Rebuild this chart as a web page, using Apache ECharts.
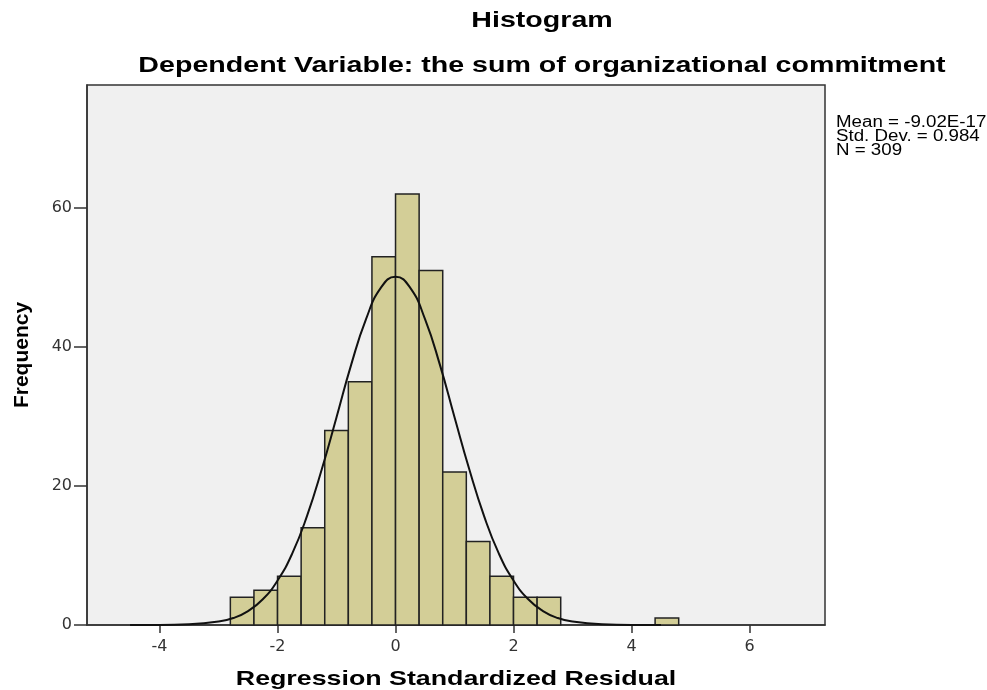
<!DOCTYPE html>
<html>
<head>
<meta charset="utf-8">
<script src="https://cdn.jsdelivr.net/npm/echarts@6/dist/echarts.min.js"></script>
<style>
  html, body { margin: 0; padding: 0; background: #fff; }
  #main { width: 987px; height: 690px; }
</style>
</head>
<body>
<div id="main"></div>
<script>
// histogram bins (left edge) and counts
var binStart = [-2.8, -2.4, -2.0, -1.6, -1.2, -0.8, -0.4, 0.0, 0.4, 0.8, 1.2, 1.6, 2.0, 2.4, 4.4];
var counts = [4, 5, 7, 14, 28, 35, 53, 62, 51, 22, 12, 7, 4, 4, 1];
var binWidth = 0.4;

// normal curve
var curveX = [-4.5, -4.0, -3.5, -3.0, -2.75, -2.5, -2.25, -2.0, -1.75, -1.5, -1.25, -1.0, -0.75, -0.5, -0.25, 0,
              0.25, 0.5, 0.75, 1.0, 1.25, 1.5, 1.75, 2.0, 2.25, 2.5, 2.75, 3.0, 3.5, 4.0, 4.5];
var curveY = [0.0, 0.0, 0.1, 0.5, 1.0, 2.0, 3.7, 6.4, 10.3, 15.7, 22.4, 29.9, 37.5, 44.0, 48.5, 50.1,
              48.5, 44.0, 37.5, 29.9, 22.4, 15.7, 10.3, 6.4, 3.7, 2.0, 1.0, 0.5, 0.1, 0.0, 0.0];

var xTicks = [-4, -2, 0, 2, 4, 6];
var yTicks = [0, 20, 40, 60];
var statsLines = ['Mean = -9.02E-17', 'Std. Dev. = 0.984', 'N = 309'];

var chart = echarts.init(document.getElementById('main'));

var barData = [];
for (var i = 0; i < binStart.length; i++) {
    barData.push([binStart[i], binStart[i] + binWidth, counts[i]]);
}
var lineData = [];
for (var j = 0; j < curveX.length; j++) {
    lineData.push([curveX[j], curveY[j]]);
}

var font = '"Liberation Sans", Arial, sans-serif';
var tickFont = '"DejaVu Sans", sans-serif';

var option = {
    animation: false,
    backgroundColor: '#fff',
    // text in the original is stretched sideways, hence scaleX
    graphic: [
        {
            type: 'text', x: 542, y: 21, scaleX: 1.3,
            style: { x: 0, y: 0, text: 'Histogram', fill: '#000', font: 'bold 22px ' + font, textAlign: 'center', textVerticalAlign: 'middle' }
        },
        {
            type: 'text', x: 542, y: 66, scaleX: 1.3,
            style: { x: 0, y: 0, text: 'Dependent Variable: the sum of organizational commitment', fill: '#000', font: 'bold 22px ' + font, textAlign: 'center', textVerticalAlign: 'middle' }
        },
        {
            type: 'text', x: 456, y: 679, scaleX: 1.275,
            style: { x: 0, y: 0, text: 'Regression Standardized Residual', fill: '#000', font: 'bold 21px ' + font, textAlign: 'center', textVerticalAlign: 'middle' }
        },
        {
            type: 'text', x: 836, y: 116, scaleX: 1.17,
            style: { x: 0, y: 0, text: statsLines.join('\n'), fill: '#000', font: '16px ' + font, lineHeight: 14, textVerticalAlign: 'top' }
        }
    ],
    grid: {
        left: 87, right: 162, top: 85, bottom: 65,
        outerBoundsMode: 'none',
        containLabel: false,
        show: true,
        backgroundColor: '#f0f0f0',
        borderColor: '#333',
        borderWidth: 1.5
    },
    xAxis: {
        type: 'value',
        min: -5.23,
        max: 7.28,
        splitLine: { show: false },
        axisLine: { show: true, onZero: false, lineStyle: { color: '#333', width: 1.5 } },
        axisTick: { show: true, length: 8, lineStyle: { color: '#333', width: 1.5 }, customValues: xTicks },
        axisLabel: { color: '#333', fontSize: 16, fontFamily: tickFont, margin: 14, customValues: xTicks }
    },
    yAxis: {
        type: 'value',
        min: 0,
        max: 77.7,
        name: 'Frequency',
        nameLocation: 'middle',
        nameGap: 54,
        nameTextStyle: { color: '#000', fontSize: 21, fontWeight: 'bold', fontFamily: font },
        splitLine: { show: false },
        axisLine: { show: true, onZero: false, lineStyle: { color: '#333', width: 1.5 } },
        axisTick: { show: true, length: 13, lineStyle: { color: '#333', width: 1.5 }, customValues: yTicks },
        axisLabel: { color: '#333', fontSize: 16, fontFamily: tickFont, margin: 15, customValues: yTicks }
    },
    series: [
        {
            type: 'custom',
            data: barData,
            encode: { x: [0, 1], y: 2 },
            renderItem: function (params, api) {
                var p0 = api.coord([api.value(0), 0]);
                var p1 = api.coord([api.value(1), api.value(2)]);
                return {
                    type: 'rect',
                    shape: { x: p0[0], y: p1[1], width: p1[0] - p0[0], height: p0[1] - p1[1] },
                    style: { fill: '#d3ce97', stroke: '#222', lineWidth: 1.5 }
                };
            },
            z: 2
        },
        {
            type: 'line',
            data: lineData,
            smooth: true,
            symbol: 'none',
            lineStyle: { color: '#111', width: 2 },
            z: 3
        }
    ]
};
chart.setOption(option);
</script>
</body>
</html>
